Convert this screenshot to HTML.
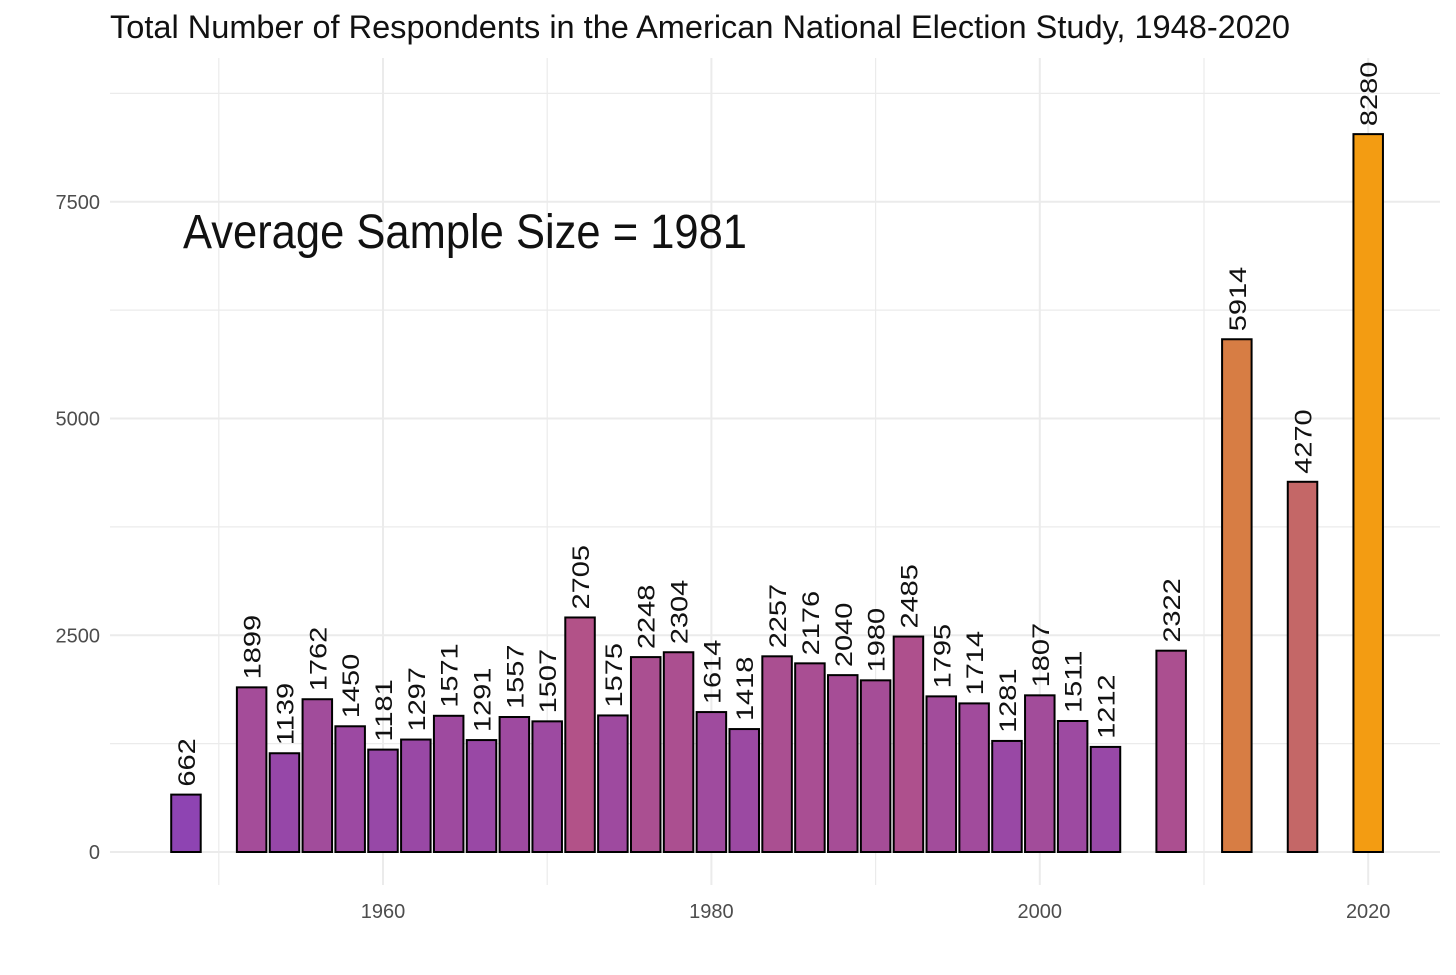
<!DOCTYPE html>
<html><head><meta charset="utf-8"><style>
body{margin:0;background:#fff}
svg text{font-family:"Liberation Sans Narrow","Liberation Sans",sans-serif}
</style></head><body>
<svg id="chart" width="1456" height="970" xmlns="http://www.w3.org/2000/svg">
<text x="110" y="38" font-size="32" fill="#111" textLength="1180" lengthAdjust="spacingAndGlyphs">Total Number of Respondents in the American National Election Study, 1948-2020</text>
<g id="grid"></g><g id="bars"></g><g id="labels"></g><g id="axes"></g>
<text x="183" y="248" font-size="48" fill="#111" textLength="564" lengthAdjust="spacingAndGlyphs">Average Sample Size = 1981</text>
</svg>
<script>
const years=[1948,1952,1954,1956,1958,1960,1962,1964,1966,1968,1970,1972,1974,1976,1978,1980,1982,1984,1986,1988,1990,1992,1994,1996,1998,2000,2002,2004,2008,2012,2016,2020];
const counts=[662,1899,1139,1762,1450,1181,1297,1571,1291,1557,1507,2705,1575,2248,2304,1614,1418,2257,2176,2040,1980,2485,1795,1714,1281,1807,1511,1212,2322,5914,4270,8280];
const xTicks=[1960,1980,2000,2020];
const yTicks=[0,2500,5000,7500];
const NS="http://www.w3.org/2000/svg";
const x=y=>383+(y-1960)*16.42;
const yS=v=>852-v*0.0867;
function mk(t,a,p){const e=document.createElementNS(NS,t);for(const k in a)e.setAttribute(k,a[k]);p.appendChild(e);return e;}
const grid=document.getElementById('grid'),bars=document.getElementById('bars'),labels=document.getElementById('labels'),axes=document.getElementById('axes');
for(let v=0;v<=8750;v+=1250){const l=mk('line',{x1:110,x2:1440,y1:yS(v),y2:yS(v),stroke:'#ebebeb','stroke-width':v%2500==0?2:1.2},grid);

}
for(let yr=1950;yr<=2020;yr+=10){const l=mk('line',{x1:x(yr),x2:x(yr),y1:58,y2:885,stroke:'#ebebeb','stroke-width':yr%20==0?2:1.2},grid);

}
const c0=[142,68,178],cm=[178,82,136],c1=[243,156,18],mn=662,mx=8280,mid=2705;
function colFor(v){let a,b,t;if(v<=mid){a=c0;b=cm;t=(v-mn)/(mid-mn);}else{a=cm;b=c1;t=(v-mid)/(mx-mid);}
return 'rgb('+a.map((c,j)=>Math.round(c+(b[j]-c)*t)).join(',')+')';}
years.forEach((yr,i)=>{const v=counts[i];
const w=29.5;
const r=mk('rect',{x:x(yr)-w/2,y:yS(v),width:w,height:852-yS(v),fill:colFor(v),stroke:'#000','stroke-width':2},bars);


const tx=mk('text',{x:0,y:0,transform:'translate('+(x(yr)+9)+','+(yS(v)-8)+') rotate(-90) scale(1,0.82)','font-size':29,fill:'#111'},labels);
tx.textContent=v;

});
xTicks.forEach(yr=>{const t=mk('text',{x:x(yr),y:918,'font-size':20,fill:'#4d4d4d','text-anchor':'middle'},axes);t.textContent=yr;

});
yTicks.forEach(v=>{const t=mk('text',{x:100,y:yS(v)+7,'font-size':20,fill:'#4d4d4d','text-anchor':'end'},axes);t.textContent=v;

});
</script>
</body></html>
